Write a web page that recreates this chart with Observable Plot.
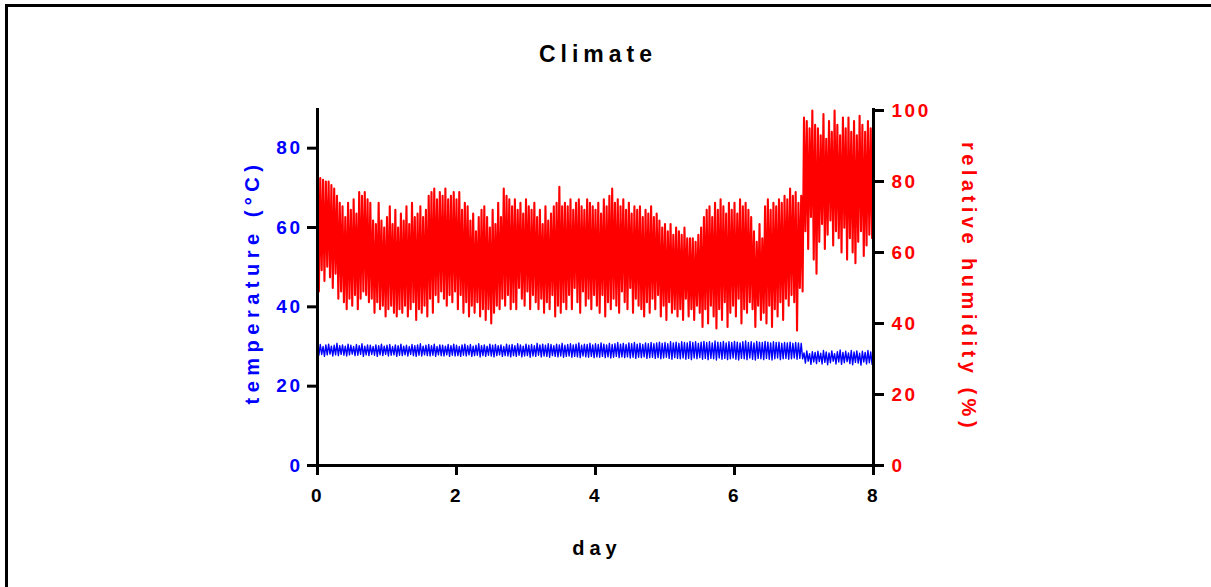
<!DOCTYPE html>
<html><head><meta charset="utf-8">
<script src="https://cdn.jsdelivr.net/npm/d3@7"></script>
<script src="https://cdn.jsdelivr.net/npm/@observablehq/plot@0.6"></script>
<style>
html,body{margin:0;padding:0;background:#fff;overflow:hidden}
#wrap{position:relative;width:1211px;height:587px;overflow:hidden}
#frame{position:absolute;left:5px;top:4px;width:1400px;height:800px;border-left:3px solid #000;border-top:3px solid #000;box-sizing:border-box}
#chart{position:absolute;left:0;top:0}
</style></head><body><div id="wrap"><div id="frame"></div><div id="chart"></div></div>
<script>
// relative humidity (%): one high and one low reading per 0.04-day step
const humHi = [
80.5,81,80.5,80,80,79,78,76,74,73,
70,74,72,75,71,77,76,77,75,74,
69,68,74,69,67,70,73,68,72,67,
71,69,73,68,74,70,71,73,70,72,
76,77,78,75,77,76,78,75,76,77,
75,77,72,74,73,69,71,66,70,72,
73,70,67,72,68,74,70,78,76,75,
73,75,72,74,71,75,73,72,74,70,
72,68,73,69,71,73,74,78.5,73,74,
73,75,72,74,75,73,72,75,74,73,
72,74,71,75,73,76,78,74,75,73,
75,72,74,71,73,72,73,70,72,71,
73,70,71,69,67,68,66,68,65,67,
66,65,67,64,64,64,63,65,67,70,
72,73,70,74,72,75,73,71,74,72,
74,71,75,73,74,72,70,66,63,68,
64,73,75,72,74,73,75,74,76,75,
78,76,77,74,76,98,97,95,100,96,
95,93,99,92,97,94,100,96,93,98,
95,98,94,97,93,98.5,96,94,97,95];
const humLo = [
49,55,52,56,53,50,54,47,49,46,
44,47,45,48,44,47,49,48,46,47,
43,46,44,45,42,44,45,43,42,44,
43,45,42,44,46,41,44,43,45,42,
47,43,48,46,49,47,45,48,46,49,
44,48,43,46,42,45,43,46,42,44,
41,44,40,43,45,44,47,45,48,44,
46,44,50,47,45,49,44,48,46,44,
47,43,46,44,48,42,45,43,46,44,
48,44,50,46,43,49,45,47,44,48,
45,43,48,42,46,44,47,45,43,49,
46,44,50,43,47,45,44,42,46,43,
47,44,48,42,45,41,46,43,44,42,
44,41,47,42,44,41,45,43,39,44,
40,45,42,38.6,44,41,46,39,43,45,
42,47,40,44,43,46,44,39,45,41,
43,40,45,39,44,42,46,41,47,45,
48,46,38,50,49,66,61,70,58,54,
63,68,61,65,69,62,66,64,60,67,
58,64,60,57,63,66,59,62,65,64];
// temperature (°C): one high and one low reading per 0.04-day step
const tempHi = [
30.2,30.5,30.0,30.4,30.6,30.1,30.3,30.8,30.2,30.4,
30.1,30.6,30.3,30.0,30.5,30.2,30.7,30.1,30.4,30.3,
30.0,30.4,30.2,30.6,30.1,30.3,30.5,30.0,30.4,30.2,
30.6,30.1,30.3,30.0,30.5,30.2,30.4,30.7,30.1,30.3,
30.5,30.2,30.6,30.0,30.4,30.3,30.1,30.5,30.2,30.6,
30.3,30.0,30.4,30.6,30.2,30.5,30.1,30.3,30.7,30.2,
30.4,30.1,30.6,30.3,30.5,30.2,30.4,30.0,30.6,30.3,
30.5,30.2,30.7,30.4,30.1,30.6,30.3,30.5,30.2,30.8,
30.4,30.6,30.3,30.7,30.5,30.2,30.6,30.4,30.8,30.3,
30.5,30.7,30.4,30.6,30.9,30.3,30.6,30.5,30.8,30.4,
30.7,30.5,30.9,30.6,30.4,30.8,30.5,30.7,31.0,30.6,
30.8,30.5,30.9,30.7,31.0,30.6,30.8,30.5,30.9,30.7,
31.0,30.7,30.9,31.1,30.8,31.0,30.7,31.2,30.9,31.1,
30.8,31.2,31.0,30.9,31.3,31.0,31.2,30.8,31.1,31.3,
31.0,31.2,30.9,31.4,31.1,31.0,31.3,30.9,31.2,31.0,
31.3,31.1,30.9,31.2,31.4,31.0,31.2,30.9,31.3,31.1,
31.0,31.3,31.1,30.9,31.2,31.0,31.1,30.8,31.0,30.9,
31.1,30.8,31.0,30.9,30.8,28.4,28.9,28.2,28.7,28.5,
28.8,28.3,29.0,28.6,28.4,28.9,28.2,28.7,29.1,28.5,
28.8,28.4,29.0,28.6,28.9,28.3,28.8,28.5,29.0,28.6];
const tempLo = [
27.8,28.0,27.5,27.9,28.1,27.6,27.9,27.7,28.0,27.8,
27.6,27.9,28.1,27.7,27.8,28.0,27.5,27.9,27.7,28.0,
27.8,27.5,27.9,27.7,28.0,27.6,27.8,27.9,27.5,27.8,
27.7,27.9,27.6,28.0,27.7,27.5,27.8,27.6,27.9,27.7,
27.6,27.8,27.5,27.9,27.7,27.6,27.9,27.5,27.8,27.6,
27.7,27.5,27.8,27.6,27.9,27.5,27.7,27.8,27.4,27.7,
27.5,27.8,27.6,27.4,27.7,27.9,27.5,27.7,27.6,27.4,
27.7,27.5,27.8,27.4,27.6,27.7,27.3,27.6,27.5,27.8,
27.4,27.6,27.5,27.3,27.7,27.5,27.4,27.6,27.3,27.5,
27.6,27.3,27.5,27.4,27.2,27.6,27.4,27.3,27.5,27.2,
27.4,27.3,27.5,27.2,27.4,27.1,27.3,27.5,27.2,27.4,
27.2,27.4,27.1,27.3,27.0,27.3,27.2,27.4,27.0,27.2,
27.3,27.0,27.2,26.9,27.1,27.3,27.0,26.8,27.2,27.0,
26.9,27.1,26.8,27.0,26.7,27.1,26.9,27.2,26.8,27.0,
26.7,27.0,26.9,26.6,27.1,26.8,27.0,26.7,26.9,27.1,
26.8,26.6,27.0,26.9,26.7,27.1,26.8,26.6,27.0,26.9,
26.7,27.0,26.8,26.6,26.9,27.1,26.7,26.9,27.0,26.8,
26.9,27.1,26.8,27.0,26.9,25.8,26.3,25.5,26.1,25.7,
26.2,25.6,26.0,25.4,25.9,26.3,25.6,26.1,25.5,25.9,
26.2,25.7,25.4,26.0,25.8,25.3,26.1,25.6,25.9,25.5];

const dayTicks = [0, 2, 4, 6, 8];
const tempTicks = [0, 20, 40, 60, 80];
const humTicks = [0, 20, 40, 60, 80, 100];
const STEP = 0.04;          // days between high/low pairs
const K = 0.895;            // humidity -> temperature axis scale

const hum = [], temp = [];
humHi.forEach((v, i) => {
  hum.push({day: i * STEP, v: v * K});
  hum.push({day: i * STEP + STEP / 2, v: humLo[i] * K});
});
tempHi.forEach((v, i) => {
  temp.push({day: i * STEP, v: v});
  temp.push({day: i * STEP + STEP / 2, v: tempLo[i]});
});

const FONT = "'Liberation Sans', Arial, sans-serif";
const plot = Plot.plot({
  width: 1211, height: 587,
  marginLeft: 317, marginRight: 338, marginTop: 108, marginBottom: 122,
  x: {domain: [0, 8]},
  y: {domain: [0, 90]},
  style: {fontFamily: FONT, fontSize: "19px", fontWeight: "bold", background: "transparent", overflow: "visible"},
  marks: [
    Plot.lineY(temp, {x: "day", y: "v", stroke: "#0000ff", strokeWidth: 1.4}),
    Plot.lineY(hum, {x: "day", y: "v", stroke: "#ff0000", strokeWidth: 2.1}),
    Plot.axisY({ticks: tempTicks, anchor: "left", tickSize: 10, tickPadding: 5, stroke: "#000", strokeWidth: 3, fill: "#0000ff", label: null}),
    Plot.axisY({ticks: humTicks.map(h => h * K), anchor: "right", tickFormat: d => String(Math.round(d / K)), tickSize: 10, tickPadding: 8, stroke: "#000", strokeWidth: 3, fill: "#ff0000", label: null}),
    Plot.axisX({ticks: dayTicks, tickSize: 10, tickPadding: 13, stroke: "#000", strokeWidth: 3, fill: "#000", label: null}),
    Plot.ruleX([0, 8], {stroke: "#000", strokeWidth: 3}),
    Plot.ruleY([0], {stroke: "#000", strokeWidth: 3})
  ]
});
document.getElementById("chart").appendChild(plot);

const svg = d3.select(plot);
svg.selectAll("g[aria-label$='axis tick label'] text").style("letter-spacing", "2.5px");
const cx = (317 + (1211 - 338)) / 2;
function label(txt, x, y, rot, fill, size, ls) {
  svg.append("text")
    .attr("transform", `translate(${x},${y}) rotate(${rot})`)
    .attr("text-anchor", "middle")
    .attr("fill", fill)
    .style("font-family", FONT).style("font-weight", "bold")
    .style("font-size", size + "px").style("letter-spacing", ls + "px")
    .text(txt);
}
label("Climate", cx + 3, 62, 0, "#000", 23, 5);
label("day", cx + 2, 555, 0, "#000", 20, 5);
label("temperature (°C)", 259, 282, -90, "#0000ff", 20, 5.5);
label("relative humidity (%)", 962, 287, 90, "#ff0000", 20, 4.5);
</script>
</body></html>
